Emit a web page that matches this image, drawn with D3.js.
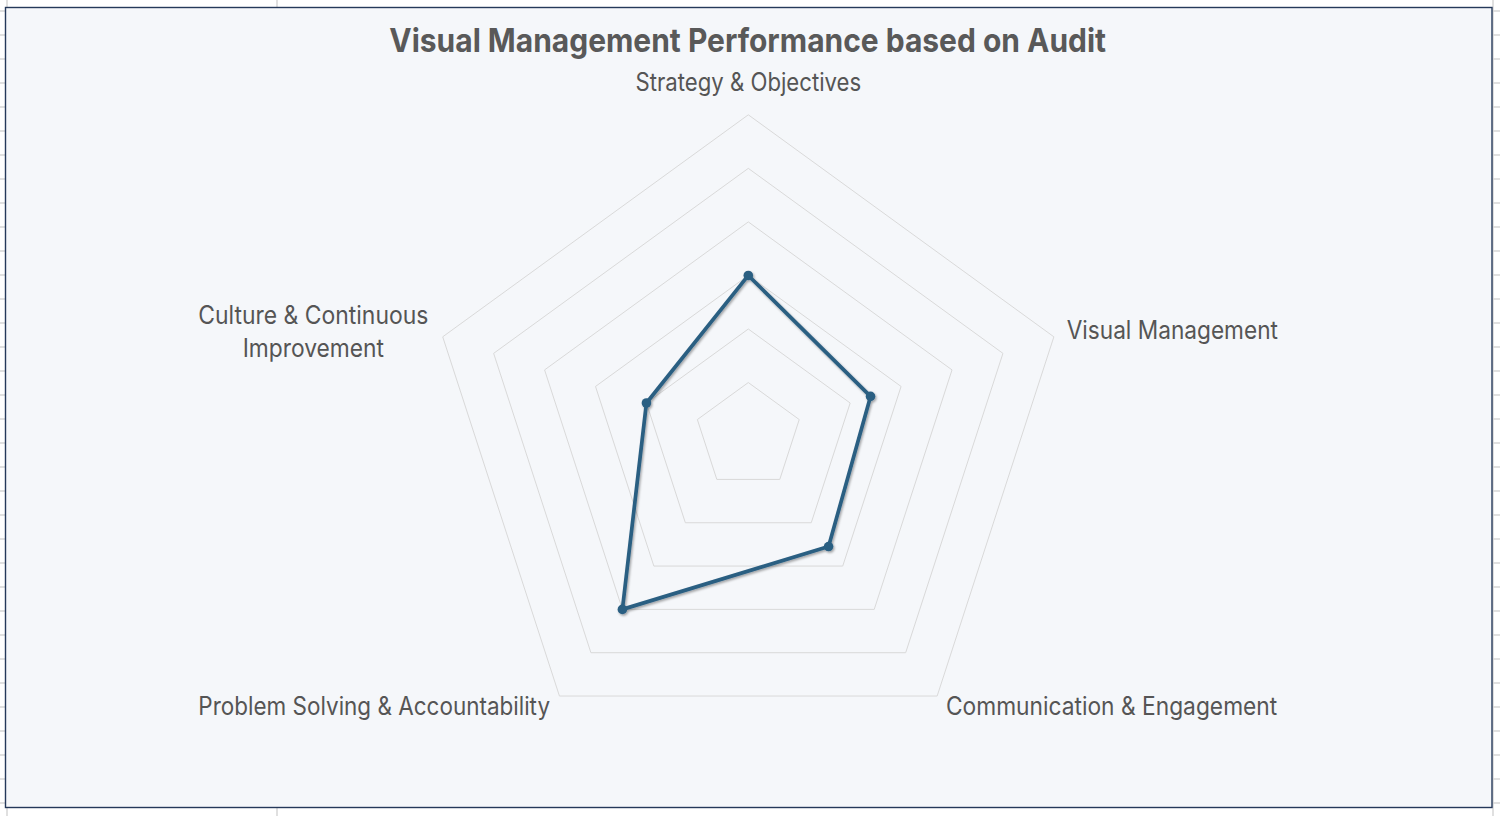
<!DOCTYPE html>
<html>
<head>
<meta charset="utf-8">
<script src="https://cdn.jsdelivr.net/npm/d3@7"></script>
<style>
  html, body { margin: 0; padding: 0; background: #ffffff; }
  svg { display: block; }
  text { font-family: Inter, "Noto Sans", "Open Sans", sans-serif; }
</style>
</head>
<body>
<svg id="chart" width="1500" height="816"></svg>
<script>
// ---- data ----
const chartTitle = "Visual Management Performance based on Audit";
const categories = [
  "Strategy & Objectives",
  "Visual Management",
  "Communication & Engagement",
  "Problem Solving & Accountability",
  "Culture & Continuous Improvement"
];
const categoryLabelLines = [
  ["Strategy & Objectives"],
  ["Visual Management"],
  ["Communication & Engagement"],
  ["Problem Solving & Accountability"],
  ["Culture & Continuous", "Improvement"]
];
const scoreValues = [3, 2.4, 2.55, 4, 2];
const ringTicks = [1, 2, 3, 4, 5, 6];

// ---- layout ----
const W = 1500, H = 816;
const cx = 748.3, cy = 436.1, R = 321.3;
const svg = d3.select("#chart");

// spreadsheet grid behind the chart
const gridG = svg.append("g");
gridG.selectAll("line.h").data(d3.range(11, H, 24)).join("line")
  .attr("x1", 0).attr("x2", W).attr("y1", d => d).attr("y2", d => d)
  .attr("stroke", "#d6d6d6").attr("stroke-width", 1.5);
gridG.selectAll("line.v").data([7, 277, 1493]).join("line")
  .attr("x1", d => d).attr("x2", d => d).attr("y1", 0).attr("y2", H)
  .attr("stroke", "#d6d6d6").attr("stroke-width", 1.5);

// chart area
svg.append("rect").attr("x", 5.5).attr("y", 7.5).attr("width", 1486.5).attr("height", 800)
  .attr("fill", "#f5f7fa").attr("stroke", "#25395a").attr("stroke-width", 1.4);

const defs = svg.append("defs");
const f = defs.append("filter").attr("id", "shadow").attr("x", "-20%").attr("y", "-20%").attr("width", "140%").attr("height", "140%");
f.append("feDropShadow").attr("dx", 1.2).attr("dy", 1.6).attr("stdDeviation", 1.3)
  .attr("flood-color", "#000").attr("flood-opacity", 0.35);

const rScale = d3.scaleLinear().domain([0, d3.max(ringTicks)]).range([0, R]);
const angle = i => i * 2 * Math.PI / categories.length;

const g = svg.append("g").attr("transform", `translate(${cx},${cy})`);

const radial = d3.lineRadial().curve(d3.curveLinearClosed);

// rings
g.selectAll("path.ring").data(ringTicks).join("path")
  .attr("class", "ring")
  .attr("d", t => radial(categories.map((c, i) => [angle(i), rScale(t)])))
  .attr("fill", "none").attr("stroke", "#d9d9d9").attr("stroke-width", 1);

// data series
const pts = scoreValues.map((v, i) => [angle(i), rScale(v)]);
const seriesG = g.append("g").attr("filter", "url(#shadow)");
seriesG.append("path")
  .attr("d", radial(pts))
  .attr("fill", "none").attr("stroke", "#2b5f82").attr("stroke-width", 3.7)
  .attr("stroke-linejoin", "round");
seriesG.selectAll("circle").data(pts).join("circle")
  .attr("cx", d => d[1] * Math.sin(d[0]))
  .attr("cy", d => -d[1] * Math.cos(d[0]))
  .attr("r", 4.8).attr("fill", "#2b5f82");

// category labels
const labelLayout = [
  { anchor: "middle", dx: 0,      dy: [-23.8],       len: [225.7] },
  { anchor: "start",  dx: 12.8,   dy: [2.5],         len: [211.3] },
  { anchor: "start",  dx: 8.8,    dy: [19],          len: [331.3] },
  { anchor: "end",    dx: -9.4,   dy: [19],          len: [351.7] },
  { anchor: "middle", dx: -129.4, dy: [-13.3, 19.7], len: [230, 141.3] }
];
const outer = rScale(d3.max(ringTicks));
categoryLabelLines.forEach((lines, i) => {
  const a = angle(i);
  const vx = outer * Math.sin(a), vy = -outer * Math.cos(a);
  const L = labelLayout[i];
  lines.forEach((line, j) => {
    g.append("text")
      .attr("x", vx + L.dx).attr("y", vy + L.dy[j])
      .attr("text-anchor", L.anchor)
      .attr("font-size", 25).attr("fill", "#555555")
      .attr("textLength", L.len[j]).attr("lengthAdjust", "spacingAndGlyphs")
      .text(line);
  });
});

// title
svg.append("text")
  .attr("x", 747.7).attr("y", 51.7)
  .attr("text-anchor", "middle")
  .attr("font-size", 33).attr("font-weight", 700).attr("fill", "#595959")
  .attr("textLength", 716.7).attr("lengthAdjust", "spacingAndGlyphs")
  .text(chartTitle);
</script>
</body>
</html>
